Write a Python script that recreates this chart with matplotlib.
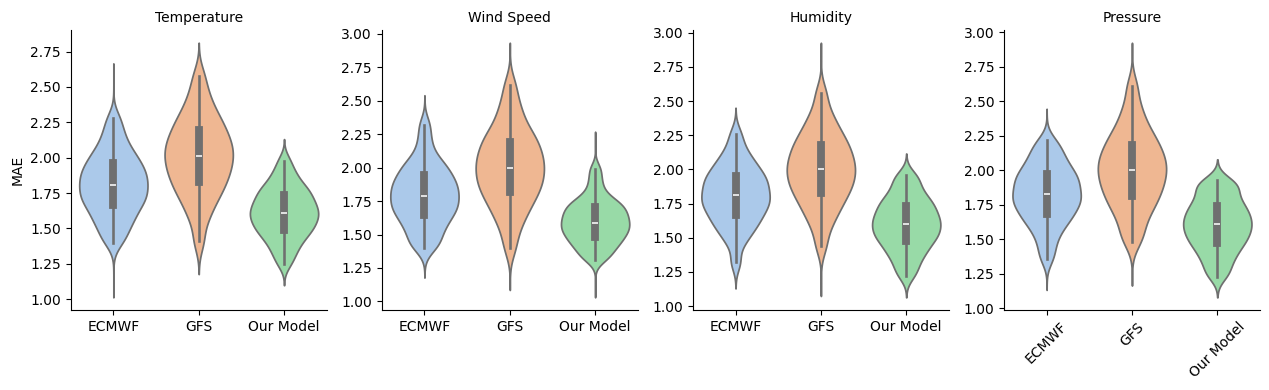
import matplotlib
matplotlib.use("Agg")
import matplotlib.pyplot as plt
import seaborn as sns

models = ["ECMWF", "GFS", "Our Model"]
variables = ["Temperature", "Wind Speed", "Humidity", "Pressure"]

# MAE samples (estimated from the reference violins)
temp_ecmwf = [1.40, 1.45, 1.50, 1.54, 1.57, 1.60, 1.63, 1.66, 1.68, 1.70, 1.72, 1.74, 1.76, 1.78, 1.80,
              1.82, 1.84, 1.86, 1.88, 1.90, 1.92, 1.94, 1.97, 1.99, 2.02, 2.05, 2.09, 2.14, 2.20, 2.28]
temp_gfs = [1.41, 1.55, 1.62, 1.68, 1.72, 1.76, 1.79, 1.82, 1.85, 1.88, 1.90, 1.93, 1.95, 1.98, 2.00,
            2.02, 2.05, 2.07, 2.09, 2.12, 2.14, 2.17, 2.20, 2.23, 2.26, 2.30, 2.34, 2.40, 2.47, 2.58]
temp_our = [1.25, 1.31, 1.35, 1.39, 1.42, 1.44, 1.47, 1.49, 1.50, 1.52, 1.54, 1.56, 1.57, 1.59, 1.60,
            1.62, 1.63, 1.65, 1.67, 1.68, 1.70, 1.72, 1.74, 1.76, 1.78, 1.80, 1.83, 1.87, 1.91, 1.98]

wind_ecmwf = [1.40, 1.43, 1.47, 1.52, 1.55, 1.58, 1.61, 1.64, 1.66, 1.68, 1.70, 1.72, 1.74, 1.76, 1.78,
              1.80, 1.82, 1.84, 1.86, 1.88, 1.90, 1.92, 1.95, 1.97, 2.00, 2.03, 2.06, 2.12, 2.21, 2.32]
wind_gfs = [1.40, 1.52, 1.60, 1.65, 1.70, 1.74, 1.77, 1.81, 1.83, 1.86, 1.89, 1.91, 1.94, 1.96, 1.99,
            2.01, 2.04, 2.06, 2.09, 2.11, 2.14, 2.17, 2.20, 2.23, 2.26, 2.30, 2.36, 2.42, 2.50, 2.62]
wind_our = [1.31, 1.34, 1.37, 1.40, 1.42, 1.44, 1.46, 1.48, 1.49, 1.51, 1.53, 1.54, 1.55, 1.57, 1.58,
            1.60, 1.61, 1.63, 1.64, 1.66, 1.67, 1.69, 1.71, 1.72, 1.74, 1.76, 1.79, 1.84, 1.91, 1.99]

hum_ecmwf = [1.32, 1.45, 1.51, 1.55, 1.58, 1.61, 1.64, 1.66, 1.68, 1.71, 1.73, 1.75, 1.76, 1.78, 1.80,
             1.82, 1.84, 1.86, 1.88, 1.90, 1.92, 1.94, 1.96, 1.98, 2.01, 2.04, 2.07, 2.11, 2.17, 2.26]
hum_gfs = [1.44, 1.56, 1.63, 1.68, 1.72, 1.76, 1.79, 1.82, 1.85, 1.87, 1.90, 1.92, 1.94, 1.97, 1.99,
           2.01, 2.03, 2.06, 2.08, 2.10, 2.13, 2.16, 2.18, 2.21, 2.24, 2.28, 2.32, 2.37, 2.44, 2.56]
hum_our = [1.22, 1.27, 1.32, 1.36, 1.39, 1.42, 1.44, 1.47, 1.49, 1.51, 1.52, 1.54, 1.56, 1.58, 1.59,
           1.61, 1.63, 1.64, 1.66, 1.68, 1.70, 1.72, 1.74, 1.76, 1.78, 1.81, 1.84, 1.88, 1.93, 1.96]

pres_ecmwf = [1.36, 1.44, 1.51, 1.56, 1.60, 1.63, 1.66, 1.68, 1.70, 1.73, 1.75, 1.77, 1.78, 1.80, 1.82,
              1.84, 1.86, 1.88, 1.90, 1.92, 1.94, 1.96, 1.98, 2.00, 2.03, 2.06, 2.09, 2.13, 2.17, 2.22]
pres_gfs = [1.48, 1.54, 1.61, 1.67, 1.71, 1.75, 1.78, 1.81, 1.84, 1.87, 1.89, 1.92, 1.94, 1.97, 1.99,
            2.01, 2.04, 2.06, 2.08, 2.11, 2.13, 2.16, 2.19, 2.22, 2.25, 2.29, 2.34, 2.40, 2.48, 2.61]
pres_our = [1.23, 1.27, 1.32, 1.36, 1.39, 1.42, 1.45, 1.47, 1.49, 1.51, 1.53, 1.55, 1.57, 1.58, 1.60,
            1.62, 1.64, 1.65, 1.67, 1.69, 1.71, 1.73, 1.75, 1.77, 1.80, 1.83, 1.86, 1.89, 1.91, 1.93]

samples = {
    "Temperature": [temp_ecmwf, temp_gfs, temp_our],
    "Wind Speed": [wind_ecmwf, wind_gfs, wind_our],
    "Humidity": [hum_ecmwf, hum_gfs, hum_our],
    "Pressure": [pres_ecmwf, pres_gfs, pres_our],
}

# KDE tail extension (in bandwidths) for each violin
cuts = {
    "Temperature": [5.8, 2.8, 2.8],
    "Wind Speed": [3.25, 3.6, 5.6],
    "Humidity": [2.9, 4.6, 2.7],
    "Pressure": [3.5, 3.8, 2.6],
}

plt.rcParams["font.family"] = ["DejaVu Sans"]
fig, axes = plt.subplots(1, 4, figsize=(12.69, 3.9), dpi=100)
fig.subplots_adjust(left=0.0557, right=0.9929, top=0.923, bottom=0.205, wspace=0.215)

for ax, var in zip(axes, variables):
    for m, vals, c in zip(models, samples[var], cuts[var]):
        labels = [m] * len(vals)
        sns.violinplot(x=labels, y=vals, hue=labels, order=models, hue_order=models,
                       palette="pastel", legend=False, inner="box", bw_method=0.3,
                       cut=c, ax=ax)
    ax.set_title(var, fontsize=10)
    ax.set_xlabel("")
    ax.set_ylabel("MAE" if var == "Temperature" else "")
    ax.spines["top"].set_visible(False)
    ax.spines["right"].set_visible(False)

for lab in axes[3].get_xticklabels():
    lab.set_rotation(45)

fig.savefig("out.png", dpi=100)
